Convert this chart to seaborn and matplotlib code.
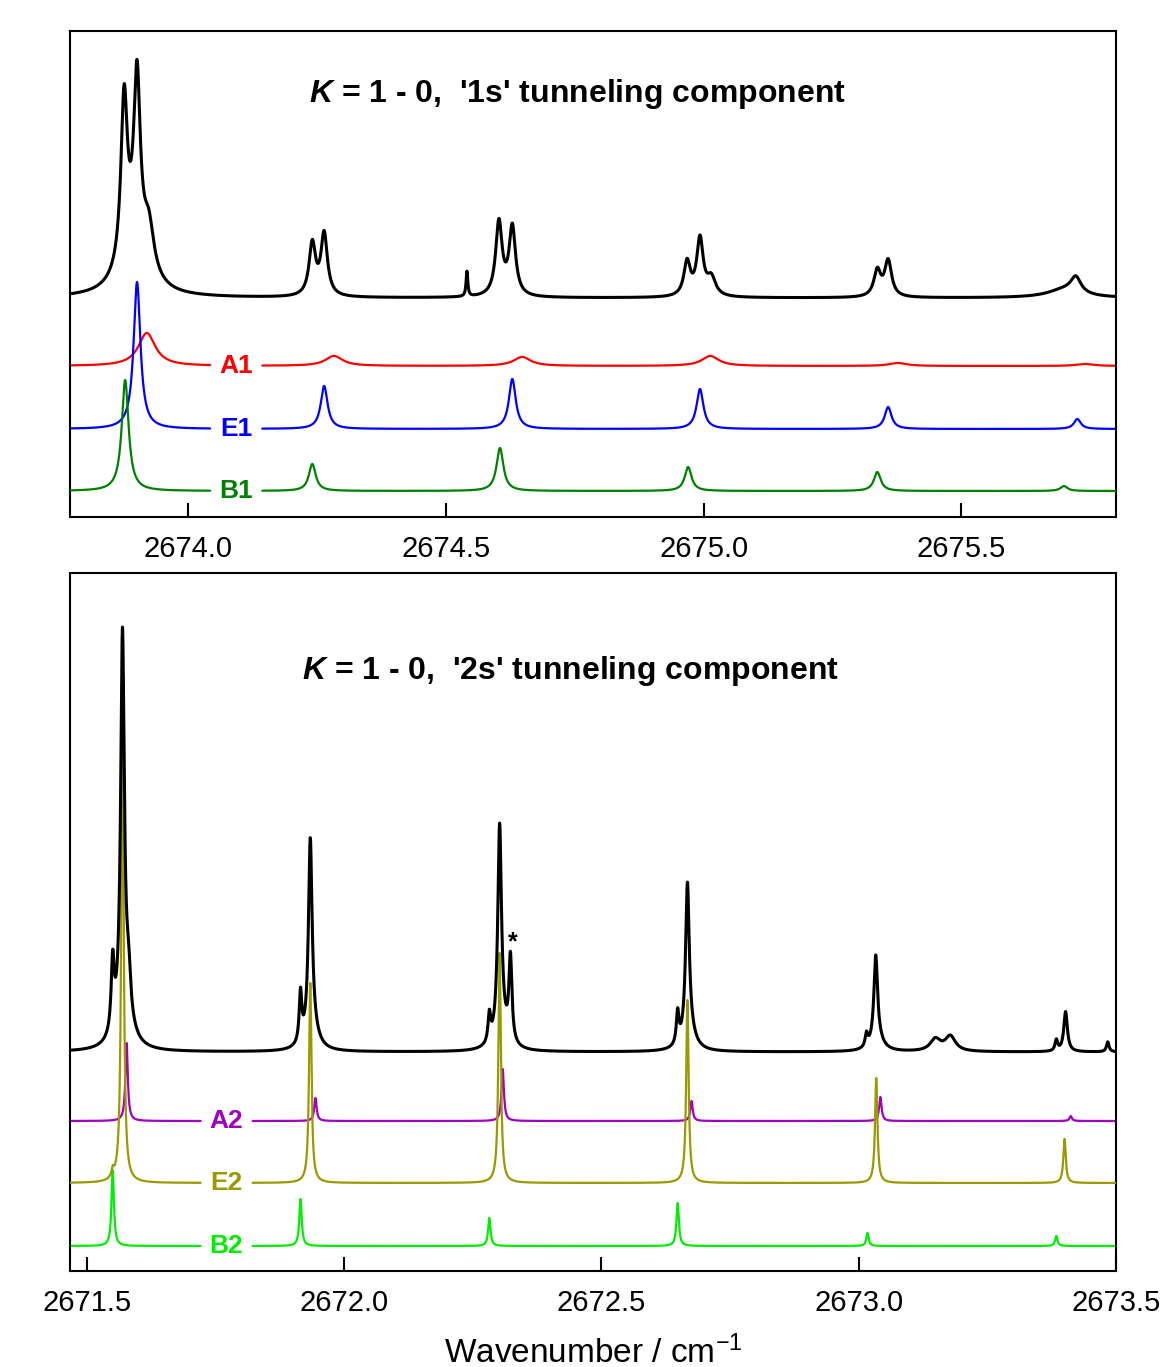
import numpy as np
import pandas as pd
import matplotlib
matplotlib.use("Agg")
import matplotlib.pyplot as plt
import seaborn as sns

# ---------------- DATA ----------------
# Top panel: K = 1 - 0, '1s' tunneling component
obs1_centers = [2673.876, 2673.901, 2673.924, 2673.895, 2674.241, 2674.264,
                2674.541, 2674.603, 2674.629, 2674.968, 2674.993, 2675.015,
                2675.337, 2675.358, 2675.722, 2675.700]
obs1_heights = [165, 172, 45, 45, 52, 62, 25, 74, 69, 34, 57, 18, 26, 36, 16, 8]
obs1_widths = [0.0075, 0.0075, 0.012, 0.030, 0.0075, 0.0075, 0.002, 0.0075,
               0.0075, 0.0075, 0.0075, 0.010, 0.008, 0.008, 0.012, 0.040]

A1_centers = [2673.920, 2674.283, 2674.648, 2675.013, 2675.377, 2675.740]
A1_heights = [33, 10, 9, 10, 3, 2]
E1_centers = [2673.901, 2674.264, 2674.629, 2674.993, 2675.358, 2675.725]
E1_heights = [147, 43, 50, 40, 22, 10]
B1_centers = [2673.878, 2674.241, 2674.605, 2674.970, 2675.337, 2675.699]
B1_heights = [111, 27, 43, 24, 19, 5]

# Bottom panel: K = 1 - 0, '2s' tunneling component
obs2_centers = [2671.550, 2671.569, 2671.572, 2671.581, 2671.915, 2671.934,
                2671.937, 2672.282, 2672.302, 2672.305, 2672.323, 2672.648,
                2672.667, 2672.670, 2673.015, 2673.033, 2673.036, 2673.149,
                2673.178, 2673.384, 2673.402, 2673.484]
obs2_heights = [70, 375, 45, 35, 50, 192, 22, 28, 205, 22, 85, 32, 150, 20,
                13, 85, 12, 12, 15, 11, 40, 10]
obs2_widths = [0.0035, 0.0042, 0.015, 0.0045, 0.003, 0.0042, 0.013, 0.003,
               0.0042, 0.013, 0.0035, 0.003, 0.0042, 0.013, 0.003, 0.0042,
               0.013, 0.012, 0.012, 0.003, 0.0042, 0.003]

A2_centers = [2671.577, 2671.944, 2672.308, 2672.675, 2673.042, 2673.412]
A2_heights = [78, 23, 52, 20, 24, 5]
E2_centers = [2671.550, 2671.569, 2671.934, 2672.302, 2672.667, 2673.034, 2673.400]
E2_heights = [8, 461, 200, 230, 183, 105, 44]
B2_centers = [2671.550, 2671.915, 2672.282, 2672.648, 2673.017, 2673.384]
B2_heights = [76, 47, 28, 43, 13, 10]

top_ticks = [2674.0, 2674.5, 2675.0, 2675.5]
bottom_ticks = [2671.5, 2672.0, 2672.5, 2673.0, 2673.5]

# ---------------- helpers ----------------
def lorentz_sum(x, centers, heights, widths):
    y = np.zeros_like(x)
    for c, h, w in zip(centers, heights, widths):
        y += h / (1.0 + ((x - c) / w) ** 2)
    return y

def trace_df(x, y, gap=None):
    df = pd.DataFrame({"x": x, "y": y, "seg": 0})
    if gap is not None:
        keep = (x < gap[0]) | (x > gap[1])
        df["seg"] = (x > gap[1]).astype(int)
        df = df[keep]
    return df

def draw(ax, df, color, lw, z):
    sns.lineplot(data=df, x="x", y="y", units="seg", estimator=None,
                 sort=False, color=color, lw=lw, ax=ax, legend=False, zorder=z)

sns.set_theme(style="white")
plt.rcParams["font.family"] = ["Liberation Sans", "DejaVu Sans"]
plt.rcParams["mathtext.fontset"] = "custom"
plt.rcParams["mathtext.it"] = "Liberation Sans:italic:bold"
plt.rcParams["mathtext.rm"] = "Liberation Sans"
plt.rcParams["mathtext.bf"] = "Liberation Sans:bold"
plt.rcParams["text.color"] = "black"
plt.rcParams["axes.labelcolor"] = "black"
plt.rcParams["xtick.color"] = "black"

fig = plt.figure(figsize=(11.68, 13.67), dpi=100)
fig.patch.set_facecolor("white")

ax1 = fig.add_axes([70 / 1168, 1 - 517 / 1367, 1046 / 1168, 486 / 1367])
ax2 = fig.add_axes([70 / 1168, 1 - 1271 / 1367, 1046 / 1168, 698 / 1367])

# ---------------- top panel ----------------
x1 = np.linspace(2673.771, 2675.800, 12000)
gap1 = (2674.043, 2674.144)
base_obs1, base_A1, base_E1, base_B1 = 219, 151, 88, 26
w_A1, w_E1, w_B1 = 0.020, 0.008, 0.008

draw(ax1, trace_df(x1, base_A1 + lorentz_sum(x1, A1_centers, A1_heights,
                                            [w_A1] * len(A1_centers)), gap1),
     "#ff0000", 1.6, 1)
draw(ax1, trace_df(x1, base_E1 + lorentz_sum(x1, E1_centers, E1_heights,
                                            [w_E1] * len(E1_centers)), gap1),
     "#0000ff", 1.6, 2)
draw(ax1, trace_df(x1, base_B1 + lorentz_sum(x1, B1_centers, B1_heights,
                                            [w_B1] * len(B1_centers)), gap1),
     "#008000", 1.6, 3)
draw(ax1, trace_df(x1, base_obs1 + lorentz_sum(x1, obs1_centers, obs1_heights,
                                               obs1_widths)),
     "black", 2.2, 4)

lab_x1 = 2674.094
for txt, yy, col in [("A1", base_A1, "#ff0000"), ("E1", base_E1, "#0000ff"),
                     ("B1", base_B1, "#008000")]:
    ax1.text(lab_x1, yy, txt, color=col, fontsize=19, fontweight="bold",
             ha="center", va="center")

ax1.text(0.4855, 0.870, r"$K$ = 1 - 0,  '1s' tunneling component",
         transform=ax1.transAxes, ha="center", va="center",
         fontsize=23, fontweight="bold", color="black")

ax1.set_xlim(2673.771, 2675.800)
ax1.set_ylim(0, 486)

# ---------------- bottom panel ----------------
x2 = np.linspace(2671.467, 2673.500, 16000)
gap2 = (2671.721, 2671.822)
base_obs2, base_A2, base_E2, base_B2 = 219, 150, 88, 25
w_sim2 = 0.0028

draw(ax2, trace_df(x2, base_A2 + lorentz_sum(x2, A2_centers, A2_heights,
                                            [w_sim2] * len(A2_centers)), gap2),
     "#a000c0", 1.6, 1)
draw(ax2, trace_df(x2, base_B2 + lorentz_sum(x2, B2_centers, B2_heights,
                                            [w_sim2] * len(B2_centers)), gap2),
     "#00ee00", 1.6, 2)
draw(ax2, trace_df(x2, base_E2 + lorentz_sum(x2, E2_centers, E2_heights,
                                            [w_sim2] * len(E2_centers)), gap2),
     "#999900", 1.6, 3)
draw(ax2, trace_df(x2, base_obs2 + lorentz_sum(x2, obs2_centers, obs2_heights,
                                               obs2_widths)),
     "black", 2.2, 4)

lab_x2 = 2671.771
for txt, yy, col in [("A2", base_A2, "#a000c0"), ("E2", base_E2, "#999900"),
                     ("B2", base_B2, "#00ee00")]:
    ax2.text(lab_x2, yy, txt, color=col, fontsize=19, fontweight="bold",
             ha="center", va="center")

ax2.text(2672.327, 329, "*", fontsize=18, fontweight="bold", ha="center",
         va="center", color="black")

ax2.text(0.478, 0.859, r"$K$ = 1 - 0,  '2s' tunneling component",
         transform=ax2.transAxes, ha="center", va="center",
         fontsize=23, fontweight="bold", color="black")

ax2.set_xlim(2671.467, 2673.500)
ax2.set_ylim(0, 698)

# ---------------- axes styling ----------------
for ax, ticks in [(ax1, top_ticks), (ax2, bottom_ticks)]:
    ax.set_xticks(ticks)
    ax.set_xticklabels([f"{t:.1f}" for t in ticks])
    ax.set_yticks([])
    ax.set_ylabel("")
    ax.set_xlabel("")
    ax.tick_params(axis="x", direction="in", length=10, width=1.5,
                   pad=13, labelsize=21, colors="black", bottom=True)
    for sp in ax.spines.values():
        sp.set_visible(True)
        sp.set_color("black")
        sp.set_linewidth(1.5)
    ax.set_facecolor("white")

ax2.set_xlabel("Wavenumber / cm$^{-1}$", fontsize=24, labelpad=13,
               color="black")

fig.savefig("out.png", dpi=100, facecolor="white")
